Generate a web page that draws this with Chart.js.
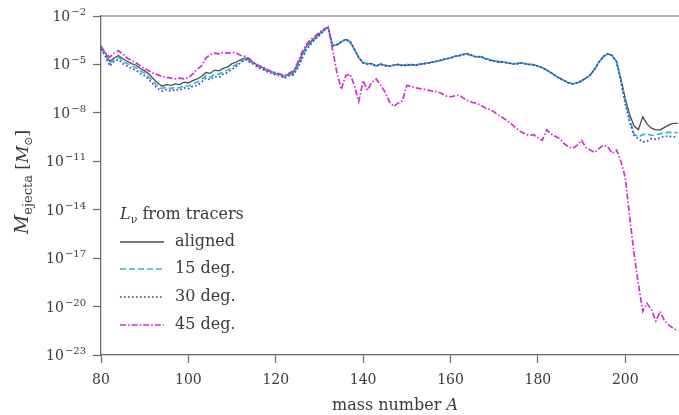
<!DOCTYPE html>
<html>
<head>
<meta charset="utf-8">
<script src="https://cdn.jsdelivr.net/npm/chart.js@4/dist/chart.umd.min.js"></script>
<style>
  html, body { margin: 0; padding: 0; background: #fff; overflow: hidden; }
  #wrap { width: 679px; height: 415px; position: relative; }
</style>
</head>
<body>
<div id="wrap"><canvas id="chart" width="679" height="415"></canvas></div>
<script>
// Mass numbers A of the ejecta bins
const massNumber = [
  80,81,82,83,84,85,86,87,88,89,90,91,92,93,94,95,96,97,98,99,
  100,101,102,103,104,105,106,107,108,109,110,111,112,113,114,115,116,117,118,119,
  120,121,122,123,124,125,126,127,128,129,130,131,132,133,134,135,136,137,138,139,
  140,141,142,143,144,145,146,147,148,149,150,151,152,153,154,155,156,157,158,159,
  160,161,162,163,164,165,166,167,168,169,170,171,172,173,174,175,176,177,178,179,
  180,181,182,183,184,185,186,187,188,189,190,191,192,193,194,195,196,197,198,199,
  200,201,202,203,204,205,206,207,208,209,210,211,212
];

// log10 of the ejected mass (solar masses) per mass number
const log10Aligned = [
  -3.95,-4.3,-4.8,-4.6,-4.45,-4.65,-4.8,-4.95,-5.05,-5.25,-5.4,-5.6,-5.9,-6.15,-6.35,-6.25,-6.3,-6.2,-6.25,-6.1,
  -6.15,-6.0,-5.9,-5.75,-5.5,-5.55,-5.35,-5.4,-5.25,-5.15,-4.95,-4.85,-4.7,-4.6,-4.75,-4.9,-5.1,-5.2,-5.35,-5.45,
  -5.55,-5.6,-5.75,-5.6,-5.5,-5.0,-4.4,-3.9,-3.6,-3.35,-3.1,-2.85,-2.7,-3.85,-3.8,-3.6,-3.45,-3.6,-4.05,-4.6,
  -4.9,-4.95,-4.95,-5.1,-4.95,-5.05,-5.1,-5.05,-5.0,-5.05,-5.05,-5.0,-5.05,-5.0,-4.95,-4.9,-4.85,-4.8,-4.75,-4.65,
  -4.6,-4.5,-4.45,-4.35,-4.35,-4.45,-4.55,-4.5,-4.65,-4.7,-4.8,-4.85,-4.85,-4.9,-4.95,-4.95,-4.9,-4.95,-5.0,-5.0,
  -5.1,-5.2,-5.35,-5.5,-5.7,-5.85,-6.0,-6.15,-6.2,-6.15,-6.0,-5.85,-5.65,-5.3,-4.85,-4.5,-4.35,-4.45,-4.8,-5.9,
  -7.1,-8.1,-8.8,-9.05,-8.25,-8.7,-8.95,-9.05,-9.05,-8.9,-8.75,-8.65,-8.65
];
const log10Deg15 = [
  -4.0,-4.4,-4.95,-4.7,-4.55,-4.8,-4.95,-5.1,-5.2,-5.4,-5.55,-5.8,-6.1,-6.35,-6.5,-6.4,-6.5,-6.4,-6.45,-6.3,
  -6.35,-6.2,-6.1,-5.95,-5.7,-5.8,-5.6,-5.6,-5.45,-5.35,-5.15,-5.0,-4.8,-4.65,-4.8,-4.95,-5.15,-5.25,-5.4,-5.5,
  -5.6,-5.65,-5.8,-5.65,-5.6,-5.15,-4.55,-4.0,-3.7,-3.4,-3.15,-2.9,-2.72,-3.8,-3.8,-3.6,-3.45,-3.6,-4.1,-4.6,
  -4.9,-4.95,-5.0,-5.1,-5.0,-5.05,-5.1,-5.05,-5.05,-5.05,-5.0,-5.05,-5.05,-4.95,-4.95,-4.9,-4.85,-4.8,-4.7,-4.65,
  -4.6,-4.5,-4.45,-4.35,-4.4,-4.45,-4.5,-4.55,-4.65,-4.7,-4.8,-4.8,-4.85,-4.9,-4.95,-4.95,-4.9,-4.95,-5.0,-5.05,
  -5.1,-5.2,-5.35,-5.55,-5.7,-5.85,-6.0,-6.1,-6.2,-6.15,-6.05,-5.85,-5.65,-5.25,-4.85,-4.5,-4.35,-4.45,-4.85,-6.0,
  -7.3,-8.4,-9.3,-9.5,-9.35,-9.3,-9.4,-9.35,-9.3,-9.25,-9.2,-9.25,-9.2
];
const log10Deg30 = [
  -4.05,-4.5,-5.1,-4.8,-4.7,-4.95,-5.1,-5.25,-5.35,-5.55,-5.7,-5.95,-6.25,-6.5,-6.65,-6.55,-6.65,-6.55,-6.6,-6.45,
  -6.5,-6.35,-6.3,-6.1,-5.85,-5.95,-5.75,-5.8,-5.6,-5.5,-5.3,-5.1,-4.9,-4.7,-4.85,-5.0,-5.2,-5.3,-5.45,-5.55,
  -5.65,-5.7,-5.85,-5.7,-5.65,-5.25,-4.65,-4.1,-3.75,-3.45,-3.2,-2.9,-2.7,-3.85,-3.75,-3.6,-3.45,-3.55,-4.05,-4.55,
  -4.9,-5.0,-4.95,-5.1,-5.0,-5.1,-5.1,-5.05,-5.0,-5.1,-5.05,-5.0,-5.05,-5.0,-4.95,-4.9,-4.85,-4.8,-4.7,-4.65,
  -4.6,-4.5,-4.45,-4.4,-4.35,-4.45,-4.55,-4.5,-4.65,-4.75,-4.8,-4.85,-4.85,-4.9,-4.95,-5.0,-4.9,-4.95,-5.0,-5.05,
  -5.1,-5.2,-5.35,-5.5,-5.7,-5.9,-6.0,-6.15,-6.2,-6.15,-6.0,-5.85,-5.65,-5.3,-4.85,-4.5,-4.35,-4.45,-4.85,-6.05,
  -7.45,-8.55,-9.4,-9.6,-9.8,-9.75,-9.6,-9.65,-9.55,-9.45,-9.45,-9.5,-9.45
];
const log10Deg45 = [
  -3.85,-4.3,-4.55,-4.3,-4.15,-4.35,-4.6,-4.75,-4.9,-5.1,-5.25,-5.4,-5.55,-5.65,-5.75,-5.8,-5.85,-5.9,-5.85,-5.9,
  -5.8,-5.6,-5.3,-5.1,-4.6,-4.4,-4.3,-4.35,-4.25,-4.3,-4.25,-4.3,-4.45,-4.5,-4.65,-4.9,-5.05,-5.15,-5.3,-5.45,
  -5.5,-5.6,-5.7,-5.55,-5.4,-4.9,-4.25,-3.75,-3.45,-3.25,-3.0,-2.8,-2.7,-4.1,-5.5,-6.55,-5.7,-5.6,-6.3,-7.3,
  -6.0,-6.6,-6.1,-5.9,-6.3,-6.7,-7.3,-7.6,-7.4,-7.25,-6.3,-6.35,-6.45,-6.5,-6.55,-6.6,-6.65,-6.7,-6.8,-6.95,
  -7.0,-6.95,-6.9,-7.1,-7.25,-7.35,-7.4,-7.55,-7.7,-7.8,-7.95,-8.15,-8.3,-8.5,-8.7,-8.95,-9.15,-9.3,-9.4,-9.35,
  -9.55,-9.7,-9.05,-9.3,-9.45,-9.6,-9.9,-10.1,-10.2,-10.0,-9.7,-10.15,-10.3,-10.45,-10.2,-10.0,-10.1,-10.5,-10.3,-11.0,
  -12.0,-14.4,-16.7,-18.6,-20.3,-19.8,-20.2,-20.9,-20.3,-20.9,-21.15,-21.35,-21.5
];

const seriesLabels = ['aligned', '15 deg.', '30 deg.', '45 deg.'];
const xTickValues = [80, 100, 120, 140, 160, 180, 200];
const yTickExponents = [-2, -5, -8, -11, -14, -17, -20, -23];

const styles = [
  { color: '#4d4d4d', width: 1.3, dash: [] },
  { color: '#2cc0cc', width: 1.7, dash: [6, 3] },
  { color: '#3a3ad8', width: 1.7, dash: [1.6, 2.4] },
  { color: '#cc35cc', width: 1.7, dash: [6, 2, 1.6, 2] }
];
const drawOrder = [3, 2, 1, 0];

function toPoints(logs) {
  return massNumber.map((a, i) => ({ x: a, y: Math.pow(10, logs[i]) }));
}
const seriesLogs = [log10Aligned, log10Deg15, log10Deg30, log10Deg45];

const datasets = seriesLogs.map((logs, k) => ({
  label: seriesLabels[k],
  data: toPoints(logs),
  borderColor: styles[k].color,
  borderWidth: styles[k].width,
  borderDash: styles[k].dash,
  pointRadius: 0,
  fill: false,
  tension: 0,
  order: drawOrder[k]
}));

const SERIF = '"DejaVu Serif", "Liberation Serif", serif';
const TEXT = '#3a3a3a';
const AXIS = '#6a6a6a';

// Draws superscripted y tick labels, the frame top, axis titles and the legend box
const annotate = {
  id: 'annotate',
  afterDraw(chart) {
    const ctx = chart.ctx;
    const area = chart.chartArea;
    const ys = chart.scales.y;
    ctx.save();

    // top frame line
    ctx.strokeStyle = AXIS;
    ctx.lineWidth = 1.2;
    ctx.beginPath();
    ctx.moveTo(area.left, area.top);
    ctx.lineTo(chart.width, area.top);
    ctx.stroke();

    // y tick labels 10^n
    ctx.fillStyle = TEXT;
    ctx.textBaseline = 'alphabetic';
    yTickExponents.forEach(e => {
      const y = ys.getPixelForValue(Math.pow(10, e));
      const expText = '\u2212' + Math.abs(e);
      ctx.font = '10px ' + SERIF;
      const wE = ctx.measureText(expText).width;
      const right = 86;
      ctx.textAlign = 'left';
      ctx.fillText(expText, right - wE, y - 1);
      ctx.font = '14px ' + SERIF;
      ctx.textAlign = 'right';
      ctx.fillText('10', right - wE - 1, y + 5);
    });

    // y axis title: M_ejecta [M_sun]
    const parts = [
      { t: 'M', f: 'italic 19px ' + SERIF, dy: 0 },
      { t: 'ejecta', f: '13px ' + SERIF, dy: 4 },
      { t: ' [', f: '17px ' + SERIF, dy: 0 },
      { t: 'M', f: 'italic 17px ' + SERIF, dy: 0 },
      { t: '\u2299', f: '11px ' + SERIF, dy: 4 },
      { t: ']', f: '17px ' + SERIF, dy: 0 }
    ];
    let total = 0;
    parts.forEach(p => { ctx.font = p.f; p.w = ctx.measureText(p.t).width; total += p.w; });
    ctx.save();
    ctx.translate(28, 182);
    ctx.rotate(-Math.PI / 2);
    ctx.textAlign = 'left';
    let cx = -total / 2;
    parts.forEach(p => {
      ctx.font = p.f;
      ctx.fillText(p.t, cx, p.dy);
      cx += p.w;
    });
    ctx.restore();

    // x axis title: mass number A
    ctx.font = '16px ' + SERIF;
    const w1 = ctx.measureText('mass number ').width;
    ctx.font = 'italic 16px ' + SERIF;
    const w2 = ctx.measureText('A').width;
    const x0 = 395 - (w1 + w2) / 2;
    ctx.textAlign = 'left';
    ctx.font = '16px ' + SERIF;
    ctx.fillText('mass number ', x0, 410);
    ctx.font = 'italic 16px ' + SERIF;
    ctx.fillText('A', x0 + w1, 410);

    // legend
    const lx = 120;
    ctx.font = 'italic 16px ' + SERIF;
    ctx.fillText('L', lx, 219);
    const wL = ctx.measureText('L').width;
    ctx.font = '11px ' + SERIF;
    ctx.fillText('\u03bd', lx + wL, 223);
    const wNu = ctx.measureText('\u03bd').width;
    ctx.font = '16px ' + SERIF;
    ctx.fillText(' from tracers', lx + wL + wNu, 219);

    const rows = [242, 269, 297, 325];
    rows.forEach((ry, k) => {
      const s = styles[k];
      ctx.strokeStyle = s.color;
      ctx.lineWidth = s.width;
      ctx.setLineDash(s.dash);
      ctx.beginPath();
      ctx.moveTo(lx, ry);
      ctx.lineTo(lx + 44, ry);
      ctx.stroke();
      ctx.setLineDash([]);
      ctx.fillStyle = TEXT;
      ctx.font = '16px ' + SERIF;
      ctx.textBaseline = 'middle';
      ctx.fillText(seriesLabels[k], 175, ry);
      ctx.textBaseline = 'alphabetic';
    });

    ctx.restore();
  }
};

new Chart(document.getElementById('chart'), {
  type: 'line',
  data: { datasets },
  options: {
    responsive: false,
    animation: false,
    devicePixelRatio: 1,
    layout: { padding: { top: 16, right: 0, left: 0, bottom: 0 } },
    plugins: { legend: { display: false }, tooltip: { enabled: false } },
    scales: {
      x: {
        type: 'linear',
        min: 80,
        max: 212.3,
        afterBuildTicks(scale) { scale.ticks = xTickValues.map(v => ({ value: v })); },
        afterFit(scale) { scale.height = 60; },
        grid: { drawOnChartArea: false, drawTicks: true, tickLength: 8, color: AXIS, tickWidth: 1.2 },
        border: { display: true, color: AXIS, width: 1.3 },
        ticks: { color: TEXT, font: { family: SERIF, size: 14 }, padding: 9, maxRotation: 0, autoSkip: false }
      },
      y: {
        type: 'logarithmic',
        min: 1e-23,
        max: 1e-2,
        afterBuildTicks(scale) { scale.ticks = yTickExponents.map(e => ({ value: Math.pow(10, e) })); },
        afterFit(scale) { scale.width = 101; },
        grid: { drawOnChartArea: false, drawTicks: true, tickLength: 8, color: AXIS, tickWidth: 1.2 },
        border: { display: true, color: AXIS, width: 1.3 },
        ticks: { display: false }
      }
    }
  },
  plugins: [annotate]
});
</script>
</body>
</html>
